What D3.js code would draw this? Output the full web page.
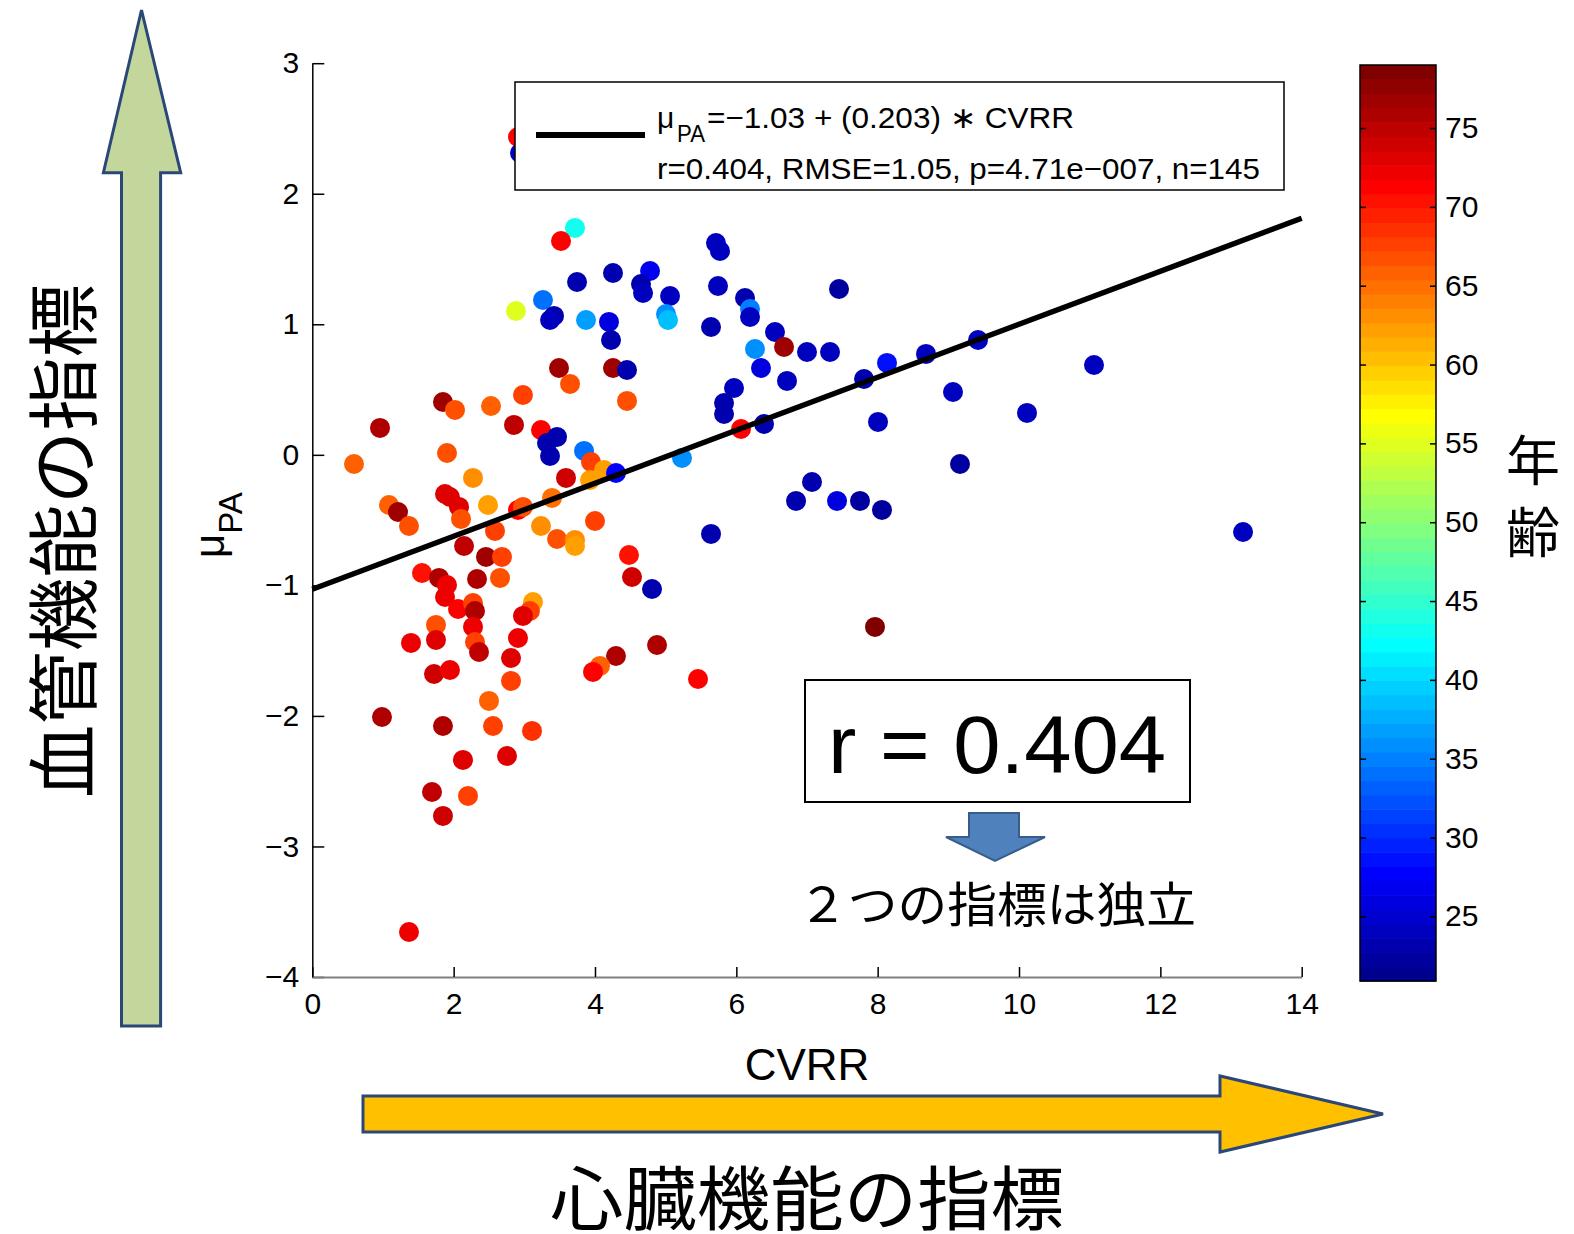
<!DOCTYPE html>
<html>
<head>
<meta charset="utf-8">
<script src="https://cdn.jsdelivr.net/npm/d3@7"></script>
<style>
  body { margin: 0; background: #fff; }
  svg text { font-family: "Liberation Sans", Arial, sans-serif; }
  .cjk { font-family: "Noto Sans CJK JP", "Noto Sans CJK SC", sans-serif; }
</style>
</head>
<body>
<svg id="chart" width="1574" height="1234"></svg>
<script>
// CVRR (heart-rate variability index) for each subject
const cvrr = [
  2.911, 2.939, 3.717, 3.519, 4.255, 4.779, 3.746, 4.651, 4.680, 2.882,
  3.264, 3.420, 3.364, 3.873, 4.198, 4.227, 3.491, 4.255, 4.453, 3.647,
  2.981, 1.849, 2.019, 2.529, 4.453, 0.958, 2.854, 3.236, 3.463, 3.321,
  3.364, 3.845, 0.590, 1.906, 3.944, 4.128, 3.930, 4.297, 3.590, 2.274,
  1.085, 1.213, 1.368, 1.878, 1.948, 2.076, 2.104, 2.486, 2.911, 2.981,
  3.392, 3.236, 2.585, 4.000, 3.463, 3.717, 3.717, 2.147, 2.458, 2.684,
  1.552, 1.793, 1.906, 2.656, 2.331, 1.878, 2.062, 2.274, 2.302, 3.123,
  3.080, 2.981, 4.481, 4.524, 4.807, 1.750, 2.274, 1.397, 1.750, 2.302,
  2.359, 2.911, 2.812, 4.878, 4.297, 4.071, 3.972, 1.722, 1.948, 2.812,
  2.500, 0.986, 1.849, 2.557, 3.109, 2.132, 2.755, 1.694, 2.203, 1.849,
  1.368, 5.062, 5.005, 5.033, 5.712, 5.769, 5.741, 5.642, 6.123, 6.194,
  6.194, 6.547, 6.675, 6.264, 6.349, 7.000, 7.326, 6.717, 5.967, 5.826,
  5.826, 6.066, 6.392, 5.231, 7.453, 7.807, 8.132, 8.684, 9.420, 11.061,
  9.066, 10.113, 8.005, 9.165, 7.071, 6.845, 7.425, 7.750, 8.061, 13.170,
  5.642, 7.962, 5.458
];

// μPA (vascular function index) for each subject
const muPA = [
  2.435, 2.312, 1.738, 1.638, 1.393, 1.408, 1.324, 1.309, 1.240, 1.102,
  1.186, 1.064, 1.033, 1.033, 1.018, 0.880, 0.665, 0.665, 0.650, 0.543,
  0.458, 0.405, 0.344, 0.374, 0.413, 0.206, 0.229, 0.190, 0.137, 0.091,
  -0.009, 0.030, -0.070, 0.014, -0.055, -0.116, -0.193, -0.139, -0.177, -0.177,
  -0.384, -0.438, -0.545, -0.300, -0.323, -0.399, -0.491, -0.384, -0.422, -0.399,
  -0.330, -0.545, -0.583, -0.507, -0.645, -0.652, -0.698, -0.698, -0.782, -0.782,
  -0.905, -0.943, -0.997, -0.943, -0.951, -1.089, -1.181, -1.135, -1.196, -1.127,
  -1.196, -1.234, -0.767, -0.936, -1.028, -1.303, -1.318, -1.441, -1.418, -1.434,
  -1.510, -1.403, -1.556, -1.457, -1.541, -1.617, -1.663, -1.679, -1.648, -1.732,
  -1.885, -2.008, -2.077, -2.077, -2.115, -2.337, -2.307, -2.583, -2.613, -2.766,
  -3.655, 1.217, 1.079, 1.033, 1.623, 1.561, 1.293, 0.979, 1.201, 1.117,
  1.056, 0.941, 0.826, 0.811, 0.665, 0.788, 0.788, 0.566, 0.512, 0.397,
  0.313, 0.198, 0.236, -0.024, 1.270, 0.581, 0.704, 0.773, 0.880, 0.688,
  0.481, 0.321, 0.252, -0.070, -0.208, -0.353, -0.353, -0.353, -0.422, -0.591,
  -0.606, -1.318, -1.717
];

// Age of each subject (years), used for marker colour
const age = [
  71, 24, 43.5, 71, 23, 27, 23, 23, 24, 55,
  34.5, 23, 24, 36.5, 25.5, 23, 77, 77, 23, 67,
  67.5, 77, 67, 65.5, 67, 76, 74.5, 71.5, 23, 23,
  23.5, 33.7, 66, 67, 68, 62.6, 61.8, 28, 74, 63,
  65.5, 77, 67, 73, 73, 73, 67, 62.5, 71, 67,
  64.5, 63.3, 68, 68, 66.8, 63, 62.5, 75, 77, 67.4,
  70.5, 75.5, 72, 66.5, 76, 72, 71, 68, 75.5, 61.8,
  67.8, 73, 70.5, 74, 23, 66.8, 71.8, 71.8, 73.5, 67.4,
  74.6, 72.5, 73, 75.5, 76, 66, 71.5, 74, 72, 67.4,
  65.5, 75.5, 75.5, 67.4, 68.5, 72.8, 73.5, 74.6, 67.4, 74,
  72, 24, 36.3, 39, 24.5, 24.5, 24.5, 23, 23, 35.4,
  24.5, 24, 77, 36, 25.5, 24, 24.5, 24.5, 24, 23.5,
  23.5, 71, 23, 36, 22.5, 23, 28.5, 24.5, 24.5, 24.5,
  24.5, 24.5, 24.5, 22.5, 23, 23, 25.5, 22, 22.5, 24.5,
  23, 79, 71
];

const xTicks = [0, 2, 4, 6, 8, 10, 12, 14];
const yTicks = [-4, -3, -2, -1, 0, 1, 2, 3];
const ageTicks = [25, 30, 35, 40, 45, 50, 55, 60, 65, 70, 75];
const ageRange = [20.9, 79];
const fitIntercept = -1.03;
const fitSlope = 0.203;
const fitRange = [0, 14];

const legendLine1 = "=\u22121.03 + (0.203) \u2217 CVRR";
const legendLine2 = "r=0.404, RMSE=1.05, p=4.71e\u2212007, n=145";
const rLabel = "r = 0.404";
const noteLabel = "２つの指標は独立";
const vascularLabel = "血管機能の指標";
const cardiacLabel = "心臓機能の指標";
const ageLabel = ["年", "齢"];

const svg = d3.select("#chart");
svg.append("rect").attr("width", 1574).attr("height", 1234).attr("fill", "#fff");

// 64-level jet colormap, indexed the same way as a MATLAB colorbar
const nColors = 64;
function jetIndex(v) {
  let i = Math.floor((v - ageRange[0]) / (ageRange[1] - ageRange[0]) * nColors) + 1;
  return Math.max(1, Math.min(nColors, i));
}
function jetColor(i) {
  const t = i / nColors;
  const c = v => Math.max(0, Math.min(1, v));
  const r = c(1.5 - Math.abs(4 * t - 3));
  const g = c(1.5 - Math.abs(4 * t - 2));
  const b = c(1.5 - Math.abs(4 * t - 1));
  return d3.rgb(r * 255, g * 255, b * 255).formatHex();
}
const colorOf = v => jetColor(jetIndex(v));

// Scales
const x = d3.scaleLinear().domain([0, 14]).range([312.3, 1301.7]);
const y = d3.scaleLinear().domain([-4, 3]).range([977, 63.2]);
const intFmt = d3.format("d");

// ---- Decorative arrows ----
const arrowStroke = "#2b4778";
// vertical arrow (vascular function)
svg.append("path")
  .attr("d", "M141.5,10 L180.7,172.7 L160.6,172.7 L160.6,1026 L121.5,1026 L121.5,172.7 L103.4,172.7 Z")
  .attr("fill", "#c3d69b").attr("stroke", arrowStroke).attr("stroke-width", 3)
  .attr("stroke-linejoin", "miter");
// horizontal arrow (cardiac function)
svg.append("path")
  .attr("d", "M1383,1114 L1220,1152 L1220,1132 L363,1132 L363,1096 L1220,1096 L1220,1076 Z")
  .attr("fill", "#ffc000").attr("stroke", arrowStroke).attr("stroke-width", 3);

svg.append("text").attr("class", "cjk")
  .attr("transform", "translate(58,541) rotate(-90)")
  .attr("text-anchor", "middle").attr("dominant-baseline", "central")
  .attr("font-size", 72).attr("textLength", 514).attr("lengthAdjust", "spacingAndGlyphs")
  .style("font-family", "'Noto Sans CJK JP', sans-serif")
  .text(vascularLabel);

svg.append("text").attr("class", "cjk")
  .attr("x", 807).attr("y", 1194)
  .attr("text-anchor", "middle").attr("dominant-baseline", "central")
  .attr("font-size", 70).attr("textLength", 514).attr("lengthAdjust", "spacingAndGlyphs")
  .style("font-family", "'Noto Sans CJK JP', sans-serif")
  .text(cardiacLabel);

// ---- Axes ----
const tickFont = 30;
const yAxis = d3.axisLeft(y).tickValues(yTicks).tickFormat(intFmt)
  .tickSizeInner(-12).tickSizeOuter(0).tickPadding(13);
const gy = svg.append("g").attr("transform", `translate(${x(0)},0)`).call(yAxis);
gy.select(".domain").attr("stroke", "#000").attr("stroke-width", 1.5);
gy.selectAll(".tick line").attr("stroke", "#000").attr("stroke-width", 1.5);
gy.selectAll(".tick text").attr("font-size", tickFont).attr("fill", "#000")
  .style("font-family", "'Liberation Sans', Arial, sans-serif");

const xAxis = d3.axisBottom(x).tickValues(xTicks).tickFormat(intFmt)
  .tickSizeInner(-10).tickSizeOuter(0).tickPadding(16);
const gx = svg.append("g").attr("transform", `translate(0,${y(-4)})`).call(xAxis);
gx.select(".domain").attr("stroke", "#808080").attr("stroke-width", 2);
gx.selectAll(".tick line").attr("stroke", "#000").attr("stroke-width", 1.5);
gx.selectAll(".tick text").attr("font-size", tickFont).attr("fill", "#000")
  .style("font-family", "'Liberation Sans', Arial, sans-serif");

// axis titles
svg.append("text").attr("x", 807).attr("y", 1080).attr("text-anchor", "middle")
  .attr("font-size", 44).attr("fill", "#000").text("CVRR");

const yl = svg.append("text").attr("transform", "translate(224,558) rotate(-90)")
  .attr("fill", "#000");
yl.append("tspan").attr("font-size", 42).text("\u03bc");
yl.append("tspan").attr("font-size", 33).attr("dy", 18).text("PA");

// ---- Scatter points ----
const pts = cvrr.map((v, i) => ({ cx: v, cy: muPA[i], a: age[i] }));
svg.append("g").selectAll("circle").data(pts).join("circle")
  .attr("cx", d => x(d.cx)).attr("cy", d => y(d.cy)).attr("r", 10)
  .attr("fill", d => colorOf(d.a));

// ---- Regression line ----
svg.append("line")
  .attr("x1", x(fitRange[0])).attr("y1", y(fitIntercept + fitSlope * fitRange[0]))
  .attr("x2", x(fitRange[1])).attr("y2", y(fitIntercept + fitSlope * fitRange[1]))
  .attr("stroke", "#000").attr("stroke-width", 5.5);

// ---- Legend ----
const lg = svg.append("g");
lg.append("rect").attr("x", 515).attr("y", 82).attr("width", 769).attr("height", 108)
  .attr("fill", "#fff").attr("stroke", "#000").attr("stroke-width", 1.5);
lg.append("line").attr("x1", 536).attr("x2", 645).attr("y1", 135).attr("y2", 135)
  .attr("stroke", "#000").attr("stroke-width", 6);
lg.append("text").attr("x", 657).attr("y", 128).attr("font-size", 30).attr("fill", "#000")
  .text("\u03bc");
lg.append("text").attr("x", 677).attr("y", 142).attr("font-size", 24).attr("fill", "#000")
  .attr("textLength", 28).attr("lengthAdjust", "spacingAndGlyphs").text("PA");
lg.append("text").attr("x", 707).attr("y", 128).attr("font-size", 30).attr("fill", "#000")
  .attr("textLength", 367).attr("lengthAdjust", "spacingAndGlyphs").text(legendLine1);
lg.append("text").attr("x", 657).attr("y", 179).attr("font-size", 30).attr("fill", "#000")
  .attr("textLength", 603).attr("lengthAdjust", "spacingAndGlyphs").text(legendLine2);

// ---- Colorbar ----
const cb = { x0: 1360, x1: 1436 };
const cy = d3.scaleLinear().domain(ageRange).range([981, 65]);
const step = (ageRange[1] - ageRange[0]) / nColors;
svg.append("g").selectAll("rect").data(d3.range(1, nColors + 1)).join("rect")
  .attr("x", cb.x0).attr("width", cb.x1 - cb.x0)
  .attr("y", i => cy(ageRange[0] + i * step))
  .attr("height", i => cy(ageRange[0] + (i - 1) * step) - cy(ageRange[0] + i * step) + 0.6)
  .attr("fill", i => jetColor(i));
svg.append("rect").attr("x", cb.x0).attr("y", cy(ageRange[1]))
  .attr("width", cb.x1 - cb.x0).attr("height", cy(ageRange[0]) - cy(ageRange[1]))
  .attr("fill", "none").attr("stroke", "#000").attr("stroke-width", 1.5);
const cbR = svg.append("g").attr("transform", `translate(${cb.x1},0)`)
  .call(d3.axisRight(cy).tickValues(ageTicks).tickFormat(intFmt)
    .tickSizeInner(-6).tickSizeOuter(0).tickPadding(9));
cbR.select(".domain").remove();
cbR.selectAll(".tick line").attr("stroke", "#000").attr("stroke-width", 1.5);
cbR.selectAll(".tick text").attr("font-size", tickFont).attr("fill", "#000")
  .style("font-family", "'Liberation Sans', Arial, sans-serif");
const cbL = svg.append("g").attr("transform", `translate(${cb.x0},0)`)
  .call(d3.axisLeft(cy).tickValues(ageTicks).tickSizeInner(-6).tickSizeOuter(0).tickFormat(""));
cbL.select(".domain").remove();
cbL.selectAll(".tick line").attr("stroke", "#000").attr("stroke-width", 1.5);

ageLabel.forEach((ch, i) => {
  svg.append("text").attr("class", "cjk")
    .attr("x", 1533).attr("y", 457 + i * 72)
    .attr("text-anchor", "middle").attr("dominant-baseline", "central")
    .attr("font-size", 54).attr("fill", "#000")
    .style("font-family", "'Noto Sans CJK JP', sans-serif")
    .text(ch);
});

// ---- Correlation call-out ----
svg.append("rect").attr("x", 805).attr("y", 680).attr("width", 385).attr("height", 122)
  .attr("fill", "#fff").attr("stroke", "#000").attr("stroke-width", 2);
svg.append("text").attr("x", 997).attr("y", 773).attr("text-anchor", "middle")
  .attr("font-size", 82).attr("fill", "#000")
  .attr("textLength", 338).attr("lengthAdjust", "spacingAndGlyphs").text(rLabel);
svg.append("path")
  .attr("d", "M969,813 L1019,813 L1019,837 L1045,837 L995,861 L946,837 L969,837 Z")
  .attr("fill", "#4f81bd").attr("stroke", "#385d8a").attr("stroke-width", 2);
svg.append("text").attr("x", 997).attr("y", 901).attr("text-anchor", "middle")
  .attr("dominant-baseline", "central").attr("font-size", 48).attr("fill", "#000")
  .attr("textLength", 398).attr("lengthAdjust", "spacingAndGlyphs")
  .style("font-family", "'Noto Sans CJK JP', sans-serif")
  .text(noteLabel);
</script>
</body>
</html>
